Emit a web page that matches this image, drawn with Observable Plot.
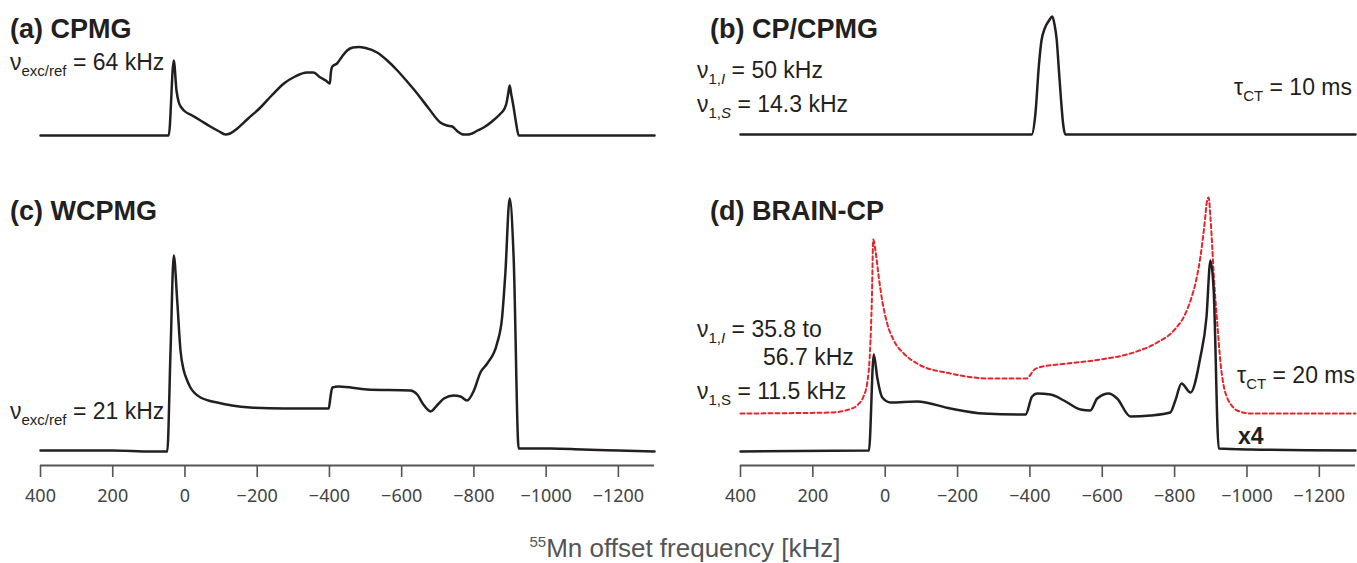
<!DOCTYPE html>
<html>
<head>
<meta charset="utf-8">
<script src="https://cdn.jsdelivr.net/npm/d3@7"></script>
<script src="https://cdn.jsdelivr.net/npm/@observablehq/plot@0.6"></script>
<style>
  html, body { margin: 0; padding: 0; background: #fff; }
  #fig { position: relative; width: 1357px; height: 563px; overflow: hidden; font-family: "Liberation Sans", Arial, Helvetica, sans-serif; color: #231f20; }
  #fig svg { position: absolute; }
  .t { position: absolute; white-space: nowrap; line-height: 1; }
  .title { font-weight: bold; font-size: 27px; }
  .ann { font-size: 23px; }
  .ann sub { font-size: 15px; vertical-align: baseline; position: relative; top: 6px; }
  .xlab { font-size: 26px; color: #555; }
  .xlab sup { font-size: 15px; vertical-align: baseline; position: relative; top: -10px; }
</style>
</head>
<body>
<div id="fig"></div>
<script>
// ---- data (kHz offset, relative intensity) ----
const ticksX = [400, 200, 0, -200, -400, -600, -800, -1000, -1200];

const cpmgX = [400, 95, 45, 31, 23.5, 17, 10, 3, -20, -43, -70, -95, -112, -125, -145, -175, -209, -240, -274, -305, -338, -355, -375, -390, -401, -404, -408, -421, -435, -449, -465, -481, -500, -532, -560, -588, -615, -643, -675, -707, -725, -740, -755, -772, -785, -795, -810, -827, -850, -874, -885, -890, -895, -899, -903, -910, -917, -924, -1012, -1300];
const cpmgY = [0, 0, 0, 75, 45, 33, 28, 25, 20, 15, 9, 4, 1, 2, 7, 17, 28, 40, 52, 59, 63, 63, 58, 55, 52, 63, 69, 72, 79, 85, 88, 88.5, 87.5, 83, 75, 65, 54, 42, 27, 13, 10, 9, 4, 1, 1, 2, 5, 8, 14, 22, 27, 32, 42, 50, 42, 28, 12, 0, 0, 0];

const cpX = [400, -405, -415, -425, -432, -441, -453, -462, -468, -474, -480, -486, -492, -498, -1300];
const cpY = [0, 0, 20, 70, 94, 106, 114, 118, 110, 95, 65, 35, 10, 0, 0];

const wcpmgX = [400, 200, 95, 49, 40, 31, 21.5, 12.4, 3.3, -5, -15, -28, -43, -65, -89, -130, -181, -274, -398, -403, -408, -426, -504, -624, -643, -660, -680, -700, -717, -744, -763, -781, -800, -818, -837, -864, -878, -887, -899, -910, -924, -1012, -1100, -1200, -1300];
const wcpmgY = [1, 1, 0, 0, 100, 196, 151, 101, 81, 72, 64, 58, 54, 51, 49, 46, 44, 43, 43, 55, 64, 65, 62, 61, 57, 47, 40, 47, 53, 56, 55, 51, 61, 79, 88, 108, 134, 178, 253, 194, 3, 3, 2, 1, 0];

const brainX = [400, 45, 31.6, 22, 8, -15, -88, -180, -272, -388, -406, -420, -457, -494, -540, -567, -586, -618, -641, -678, -733, -788, -802, -819, -844, -871, -888, -899, -908, -922, -1010, -1300];
const brainY = [0, 1, 97, 74, 54, 49, 50, 43, 38, 37, 55, 58, 57, 51, 42, 41, 53, 58, 53, 35, 36, 39, 51, 68, 59, 94, 134, 191, 161, 3, 2, 1];

const simX = [400, 150, 100, 75, 60, 50, 42, 37, 33, 27, 17.7, 8.3, -5.5, -23.7, -51.4, -88, -180, -291, -392, -400, -410, -425, -503, -595, -687, -752, -798, -830, -844, -860, -871, -882, -890, -894, -899, -904, -908, -918, -927, -936, -945, -960, -973, -1010, -1300];
const simY = [38, 39, 42, 47, 55, 68, 100, 150, 212, 201, 174, 151, 128, 111, 98, 88, 78, 73, 73, 76, 81, 84, 88, 92, 99, 109, 121, 138, 151, 172, 194, 225, 251, 254, 234, 205, 178, 128, 88, 65, 54, 45, 41, 38, 38];

const INK = "#231f20";
const RED = "#e4262c";
const fig = document.getElementById("fig");
const fmt = d => d < 0 ? "\u2212" + (-d) : String(d);

function place(el, left, top) { el.style.left = left + "px"; el.style.top = top + "px"; fig.appendChild(el); }

const lineOpts = {stroke: INK, strokeWidth: 2.5, strokeLinejoin: "round", curve: "monotone-x"};

// top row (no axis)
function topPanel(xs, ys, left, width, mL, mR, base) {
  return place(Plot.plot({
    width, height: 145, marginLeft: mL, marginRight: mR, marginTop: 0, marginBottom: 145 - base,
    x: {domain: [400, -1300], axis: null},
    y: {domain: [0, base], axis: null},
    marks: [Plot.line(xs, {x: xs, y: ys, ...lineOpts})]
  }), left, 0);
}

// bottom row (with axis)
function bottomPanel(left, width, mL, mR, marks) {
  const top = 145, h = 418, axisY = 320, zeroY = 306;
  return place(Plot.plot({
    width, height: h, marginLeft: mL, marginRight: mR, marginTop: 0, marginBottom: h - axisY,
    x: {domain: [400, -1300], axis: null},
    y: {domain: [zeroY - axisY, zeroY], axis: null},
    marks: [
      ...marks,
      Plot.ruleY([zeroY - axisY], {stroke: "#555", strokeWidth: 2}),
      Plot.axisX(ticksX, {anchor: "bottom", tickSize: 12, tickPadding: 12, tickFormat: fmt, stroke: "#555", strokeWidth: 1.6, fill: "#444", fontSize: 18, label: null})
    ]
  }), left, top);
}

topPanel(cpmgX, cpmgY, 0, 680, 40, 26, 135);
topPanel(cpX, cpY, 680, 677, 60, 2, 134);

bottomPanel(0, 680, 40, 26, [
  Plot.line(wcpmgX, {x: wcpmgX, y: wcpmgY, ...lineOpts})
]);
bottomPanel(680, 677, 60, 2, [
  Plot.line(simX, {x: simX, y: simY, stroke: RED, strokeWidth: 2, strokeDasharray: "4,3", curve: "monotone-x"}),
  Plot.line(brainX, {x: brainX, y: brainY, ...lineOpts})
]);

// text
function txt(html, cls, left, baseline, size, right) {
  const d = document.createElement("div");
  d.className = "t " + cls;
  d.innerHTML = html;
  d.style.top = (baseline - 0.85 * size) + "px";
  if (right != null) { d.style.right = right + "px"; } else { d.style.left = left + "px"; }
  fig.appendChild(d);
  return d;
}
txt("(a) CPMG", "title", 10, 39, 27);
txt("(b) CP/CPMG", "title", 710, 39, 27);
txt("(c) WCPMG", "title", 10, 221, 27);
txt("(d) BRAIN-CP", "title", 710, 221, 27);

txt("ν<sub>exc/ref</sub> = 64 kHz", "ann", 10, 71, 23);
txt("ν<sub>exc/ref</sub> = 21 kHz", "ann", 10, 420, 23);

txt("ν<sub>1,<i>I</i></sub> = 50 kHz", "ann", 697, 79, 23);
txt("ν<sub>1,<i>S</i></sub> = 14.3 kHz", "ann", 697, 113, 23);
txt("τ<sub>CT</sub> = 10 ms", "ann", 0, 96, 23, 5);

txt("ν<sub>1,<i>I</i></sub> = 35.8 to", "ann", 697, 338, 23);
txt("56.7 kHz", "ann", 763, 366, 23);
txt("ν<sub>1,S</sub> = 11.5 kHz", "ann", 697, 400, 23);
txt("τ<sub>CT</sub> = 20 ms", "ann", 0, 384, 23, 2);
txt("x4", "title", 1238, 445, 23).style.fontSize = "23px";

const xl = txt("<sup>55</sup>Mn offset frequency [kHz]", "xlab", 0, 557, 26);
xl.style.left = "0"; xl.style.width = "1370px"; xl.style.textAlign = "center";
</script>
</body>
</html>
